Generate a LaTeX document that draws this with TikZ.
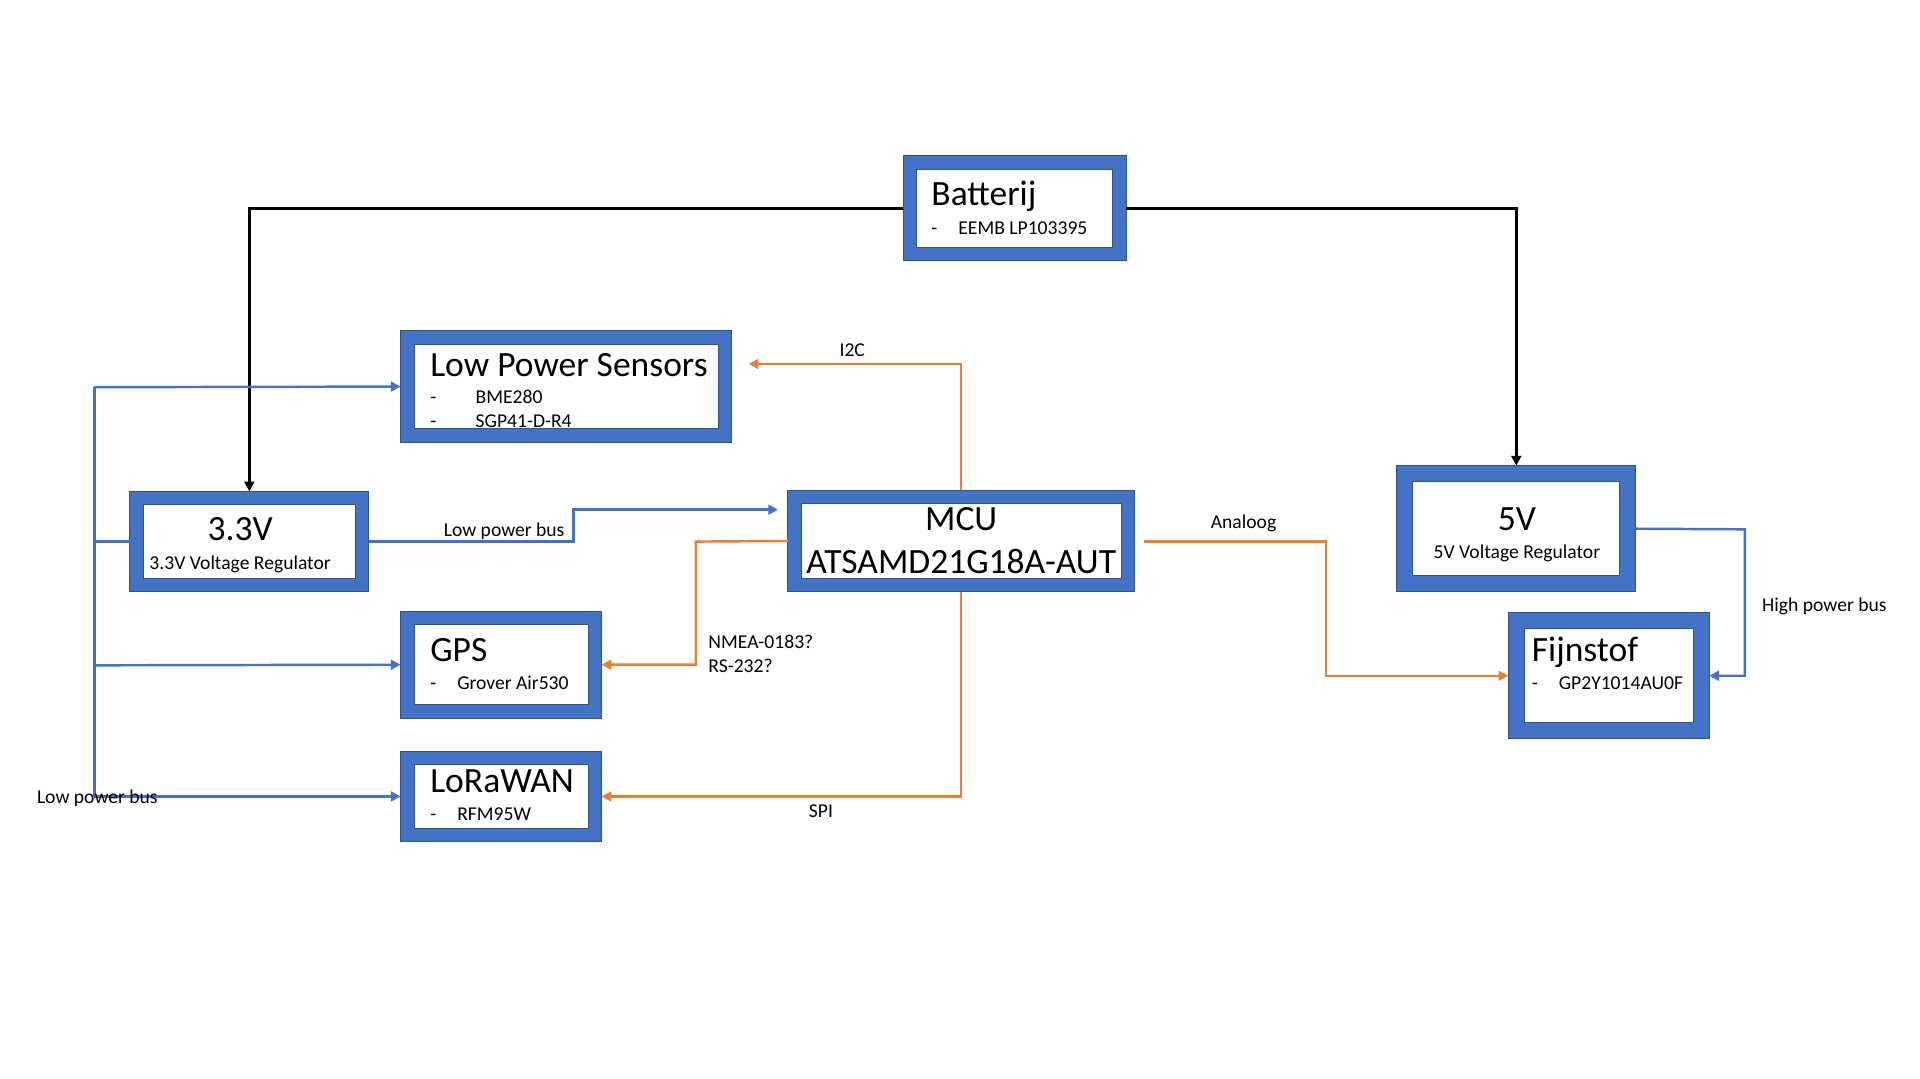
\documentclass[tikz,border=0pt]{standalone}
\usepackage{fontspec}
\setmainfont{Carlito}
\usetikzlibrary{arrows.meta}
\definecolor{blu}{HTML}{4472C4}
\definecolor{bdr}{HTML}{2F528F}
\definecolor{org}{HTML}{ED7D31}
\tikzset{
  frm/.style={draw=bdr, line width=0.8pt, inner sep=0pt, outer sep=0pt,
    path picture={
      \fill[blu, even odd rule]
        (path picture bounding box.south west) rectangle (path picture bounding box.north east)
        ([shift={(#1pt,#1pt)}]path picture bounding box.south west) rectangle ([shift={(-#1pt,-#1pt)}]path picture bounding box.north east);
      \draw[bdr, line width=0.8pt]
        ([shift={(#1pt,#1pt)}]path picture bounding box.south west) rectangle ([shift={(-#1pt,-#1pt)}]path picture bounding box.north east);
    }},
  ttl/.style={font=\fontsize{29}{32}\selectfont, inner sep=0pt},
  sub/.style={font=\fontsize{16}{18}\selectfont, inner sep=0pt},
  lbl/.style={font=\fontsize{16}{18}\selectfont, inner sep=0pt, anchor=base west},
  pw/.style={line width=2.5pt, black, -{Triangle[length=8pt,width=8pt]}},
  bl/.style={line width=2pt, blu},
  bla/.style={bl, -{Triangle[length=8pt,width=8pt]}},
  ora/.style={line width=2pt, org, -{Triangle[length=8pt,width=8pt]}},
}
\begin{document}
\begin{tikzpicture}[x=1pt,y=-1pt]
\useasboundingbox[fill=white] (-1,-1) rectangle (1566,879.6);

% ---- texts (drawn below the frames)
% Batterij
\node[ttl, anchor=base west] (tbat) at (759,167) {Batterij};
\node[sub, anchor=base west] (dbat) at (759,190) {-};
\node[sub, anchor=base west] (sbat) at (781,190) {EEMB LP103395};
% Low Power Sensors
\node[ttl, anchor=base west] (tlps) at (350,306) {Low Power Sensors};
\node[sub, anchor=base west] (dlps1) at (350,328) {-};
\node[sub, anchor=base west] (slps1) at (387,328) {BME280};
\node[sub, anchor=base west] (dlps2) at (350,348) {-};
\node[sub, anchor=base west] (slps2) at (387,348) {SGP41-D-R4};
% 3.3V
\node[ttl, anchor=base] (tv33) at (195,440) {3.3V};
\node[sub, anchor=base] (sv33) at (195,464) {3.3V Voltage Regulator};
% MCU
\node[ttl, anchor=base] (tmcu) at (783.5,432) {MCU};
\node[ttl, anchor=base] (smcu) at (783.5,467) {ATSAMD21G18A-AUT};
% GPS
\node[ttl, anchor=base west] (tgps) at (350,539) {GPS};
\node[sub, anchor=base west] (dgps) at (350,562) {-};
\node[sub, anchor=base west] (sgps) at (372,562) {Grover Air530};
% LoRaWAN
\node[ttl, anchor=base west] (tlora) at (350,646) {LoRaWAN};
\node[sub, anchor=base west] (dlora) at (350,669) {-};
\node[sub, anchor=base west] (slora) at (372,669) {RFM95W};
% 5V
\node[ttl, anchor=base] (tv5) at (1237,432) {5V};
\node[sub, anchor=base] (sv5) at (1237,455) {5V Voltage Regulator};
% Fijnstof
\node[ttl, anchor=base west] (tfij) at (1249,539) {Fijnstof};
\node[sub, anchor=base west] (dfij) at (1249,562) {-};
\node[sub, anchor=base west] (sfij) at (1271,562) {GP2Y1014AU0F};

% ---- frames
\node[frm=11, minimum width=182pt, minimum height=86pt] (bat) at (827,169) {};
\node[frm=11, minimum width=270pt, minimum height=91pt] (lps) at (461,314.5) {};
\node[frm=11, minimum width=195pt, minimum height=82pt] (v33) at (202.5,441) {};
\node[frm=11, minimum width=283pt, minimum height=83pt] (mcu) at (783.5,440.5) {};
\node[frm=11, minimum width=164pt, minimum height=87pt] (gps) at (408,541.5) {};
\node[frm=11, minimum width=164pt, minimum height=74pt] (lora) at (408,649) {};
\node[frm=13, minimum width=195pt, minimum height=103pt] (v5) at (1236.5,430.5) {};
\node[frm=13, minimum width=164pt, minimum height=103pt] (fij) at (1312,550.5) {};

% ---- coordinates
\coordinate (busT) at (76,315);
\coordinate (busM) at (76,441);
\coordinate (busG) at (76,542);
\coordinate (busB) at (76,649);
\coordinate (lpbA) at (467,441);
\coordinate (lpbB) at (467,415);
\coordinate (mcuIn) at (634,415);
\coordinate (i2cEnd) at (610,296);
\coordinate (nmeaK) at (567,441);
\coordinate (anaS) at (933,441);
\coordinate (anaK) at (1081,441);
\coordinate (hpK) at (1423,431);

% ---- power (black)
\draw[pw] (bat.west) -| (v33.north);
\draw[pw] (bat.east) -| (v5.north);

% ---- low power bus (blue)
\draw[bl] (busT) -- (busB);
\draw[bl] (v33.west) -- (busM);
\draw[bla] (busT) -- (lps.west);
\draw[bla] (busG) -- (gps.west);
\draw[bla] (busB) -- (lora.west);
\draw[bla] (v33.east) -- (lpbA) -- (lpbB) -- (mcuIn);
\draw[bla] (v5.east) -- (hpK) |- (fij.east);

% ---- data (orange)
\draw[ora] (mcu.north) |- (i2cEnd);
\draw[ora] (mcu.west) -- (nmeaK) |- (gps.east);
\draw[ora] (mcu.south) |- (lora.east);
\draw[ora] (anaS) -- (anaK) |- (fij.west);

% ---- labels
\node[lbl] (li2c) at (684,290) {I2C};
\node[lbl] (llpb1) at (361,437) {Low power bus};
\node[lbl] (lana) at (987,430) {Analoog};
\node[lbl] (lnmea) at (577,528) {NMEA-0183?};
\node[lbl] (lrs) at (577,548) {RS-232?};
\node[lbl] (lspi) at (659,666) {SPI};
\node[lbl] (llpb2) at (29,655) {Low power bus};
\node[lbl] (lhpb) at (1437,498) {High power bus};
\end{tikzpicture}
\end{document}
